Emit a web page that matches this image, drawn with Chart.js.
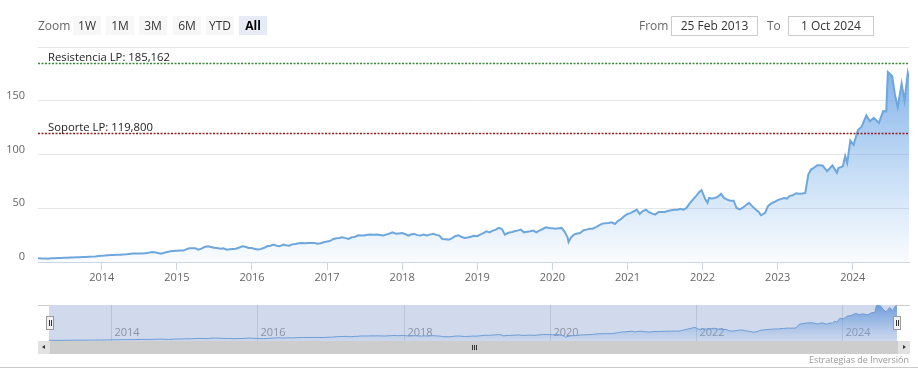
<!DOCTYPE html>
<html><head><meta charset="utf-8">
<script src="https://cdn.jsdelivr.net/npm/chart.js@4/dist/chart.umd.min.js"></script>
<style>
body{margin:0;width:918px;height:380px;position:relative;background:#fff;font-family:"Open Sans",sans-serif;overflow:hidden}
.abs{position:absolute}
.lbl{color:#666;font-size:12px;line-height:19px;top:16px}
.btn{top:16px;height:19px;width:28px;background:#f7f7f7;color:#333;font-size:12px;line-height:19px;text-align:center}
.btn.sel{background:#e6ebf5;color:#000;font-weight:bold}
.inp{top:16px;height:18px;border:1px solid #cccccc;color:#333;font-size:12px;line-height:18px;text-align:center;background:#fff}
.handle{width:6px;height:12px;top:316px;background:#f2f2f2;border:1px solid #999}
.handle i{position:absolute;top:3px;width:1px;height:6px;background:#333}
</style></head>
<body>
<canvas id="main" class="abs" width="918" height="290" style="left:0;top:0"></canvas>
<canvas id="nav" class="abs" width="848" height="36" style="left:49px;top:305px"></canvas>

<div class="abs lbl" style="left:38px">Zoom</div>
<div class="abs btn" style="left:73px">1W</div>
<div class="abs btn" style="left:106px">1M</div>
<div class="abs btn" style="left:139px">3M</div>
<div class="abs btn" style="left:173px">6M</div>
<div class="abs btn" style="left:206px">YTD</div>
<div class="abs btn sel" style="left:239px">All</div>
<div class="abs lbl" style="left:639px">From</div>
<div class="abs inp" style="left:671px;width:85px">25 Feb 2013</div>
<div class="abs lbl" style="left:767px">To</div>
<div class="abs inp" style="left:788px;width:84px">1 Oct 2024</div>

<div class="abs" style="left:38px;top:305px;width:11px;height:1px;background:#cccccc"></div>
<div class="abs" style="left:897px;top:305px;width:13px;height:1px;background:#cccccc"></div>
<div class="abs" style="left:38px;top:341px;width:872px;height:13px;background:#cdcdcd"></div>
<div class="abs" style="left:38px;top:341px;width:12px;height:13px;background:#e2e2e2"></div>
<div class="abs" style="left:898px;top:341px;width:12px;height:13px;background:#e2e2e2"></div>
<div class="abs" style="left:42px;top:345px;width:0;height:0;border-top:2.5px solid transparent;border-bottom:2.5px solid transparent;border-right:3px solid #333"></div>
<div class="abs" style="left:903px;top:345px;width:0;height:0;border-top:2.5px solid transparent;border-bottom:2.5px solid transparent;border-left:3px solid #333"></div>
<div class="abs" style="left:472px;top:345px;width:1px;height:5px;background:#333"></div>
<div class="abs" style="left:474px;top:345px;width:1px;height:5px;background:#333"></div>
<div class="abs" style="left:476px;top:345px;width:1px;height:5px;background:#333"></div>
<div class="abs handle" style="left:46px"><i style="left:2px"></i><i style="left:4px"></i></div>
<div class="abs handle" style="left:893px"><i style="left:2px"></i><i style="left:4px"></i></div>
<div class="abs" style="right:9px;top:354px;font-size:9px;color:#999;line-height:12px">Estrategias de Inversión</div>
<div class="abs" style="left:0;top:367px;width:918px;height:1px;background:#cccccc"></div>

<script>
const dates = [
 "2013-02-25","2013-03-15","2013-04-01","2013-04-15","2013-05-01","2013-05-15","2013-06-01","2013-06-15","2013-07-01","2013-07-15","2013-08-01","2013-08-15","2013-09-01","2013-09-15","2013-10-01","2013-10-15","2013-11-01","2013-11-15","2013-12-01","2013-12-15",
 "2014-01-01","2014-01-15","2014-02-01","2014-02-15","2014-03-01","2014-03-15","2014-04-01","2014-04-15","2014-05-01","2014-05-15","2014-06-01","2014-06-15","2014-07-01","2014-07-15","2014-08-01","2014-08-15","2014-09-01","2014-09-15","2014-10-01","2014-10-15","2014-11-01","2014-11-15","2014-12-01","2014-12-15",
 "2015-01-01","2015-01-15","2015-02-01","2015-02-15","2015-03-01","2015-03-15","2015-04-01","2015-04-15","2015-05-01","2015-05-15","2015-06-01","2015-06-15","2015-07-01","2015-07-15","2015-08-01","2015-08-15","2015-09-01","2015-09-15","2015-10-01","2015-10-15","2015-11-01","2015-11-15","2015-12-01","2015-12-15",
 "2016-01-01","2016-01-15","2016-02-01","2016-02-15","2016-03-01","2016-03-15","2016-04-01","2016-04-15","2016-05-01","2016-05-15","2016-06-01","2016-06-15","2016-07-01","2016-07-15","2016-08-01","2016-08-15","2016-09-01","2016-09-15","2016-10-01","2016-10-15","2016-11-01","2016-11-15","2016-12-01","2016-12-15",
 "2017-01-01","2017-01-15","2017-02-01","2017-02-15","2017-03-01","2017-03-15","2017-04-01","2017-04-15","2017-05-01","2017-05-15","2017-06-01","2017-06-15","2017-07-01","2017-07-15","2017-08-01","2017-08-15","2017-09-01","2017-09-15","2017-10-01","2017-10-15","2017-11-01","2017-11-15","2017-12-01","2017-12-15",
 "2018-01-01","2018-01-15","2018-02-01","2018-02-15","2018-03-01","2018-03-15","2018-04-01","2018-04-15","2018-05-01","2018-05-15","2018-06-01","2018-06-15","2018-07-01","2018-07-15","2018-08-01","2018-08-15","2018-09-01","2018-09-15","2018-10-01","2018-10-15","2018-11-01","2018-11-15","2018-12-01","2018-12-15",
 "2019-01-01","2019-01-15","2019-02-01","2019-02-15","2019-03-01","2019-03-15","2019-04-01","2019-04-15","2019-05-01","2019-05-15","2019-06-01","2019-06-15","2019-07-01","2019-07-15","2019-08-01","2019-08-15","2019-09-01","2019-09-15","2019-10-01","2019-10-15","2019-11-01","2019-11-15","2019-12-01","2019-12-15",
 "2020-01-01","2020-01-15","2020-02-01","2020-02-15","2020-03-01","2020-03-15","2020-03-20","2020-04-01","2020-04-15","2020-05-01","2020-05-15","2020-06-01","2020-06-15","2020-07-01","2020-07-15","2020-08-01","2020-08-15","2020-09-01","2020-09-15","2020-10-01","2020-10-15","2020-11-01","2020-11-15","2020-12-01","2020-12-15",
 "2021-01-01","2021-01-15","2021-02-01","2021-02-15","2021-03-01","2021-03-15","2021-04-01","2021-04-15","2021-05-01","2021-05-15","2021-06-01","2021-06-15","2021-07-01","2021-07-15","2021-08-01","2021-08-15","2021-09-01","2021-09-15","2021-10-01","2021-10-15","2021-11-01","2021-11-15","2021-12-01","2021-12-15","2021-12-27",
 "2022-01-15","2022-01-25","2022-02-01","2022-02-15","2022-03-01","2022-03-15","2022-04-01","2022-04-15","2022-05-01","2022-05-15","2022-06-01","2022-06-15","2022-07-01","2022-07-15","2022-08-01","2022-08-15","2022-09-01","2022-09-15","2022-10-01","2022-10-12","2022-11-01","2022-11-15","2022-12-01","2022-12-15",
 "2023-01-01","2023-01-15","2023-02-01","2023-02-15","2023-03-01","2023-03-15","2023-04-01","2023-04-15","2023-05-01","2023-05-15","2023-05-30","2023-06-12","2023-06-25","2023-07-12","2023-07-19","2023-08-07","2023-08-29","2023-09-24","2023-10-16","2023-10-23","2023-11-14","2023-11-25","2023-12-05","2023-12-20",
 "2024-01-05","2024-01-26","2024-02-13","2024-03-07","2024-03-25","2024-04-12","2024-05-08","2024-05-28","2024-06-12","2024-06-20","2024-07-11","2024-07-24","2024-08-07","2024-08-26","2024-09-09","2024-09-25","2024-10-01"
];
const prices = [
 3.6,3.3,3.2,3.1,3.4,3.6,3.7,3.8,3.9,4.0,4.1,4.2,4.4,4.5,4.6,4.7,4.9,5.0,5.2,5.5,
 5.9,6.0,6.2,6.4,6.5,6.7,6.8,7.0,7.1,7.4,7.8,7.8,7.8,7.9,8.2,8.5,9.3,9.0,8.4,7.8,8.6,9.4,10.0,10.3,
 10.5,10.6,10.6,11.8,12.7,12.9,12.7,11.5,12.4,14.0,14.6,14.0,13.3,13.0,12.3,12.7,11.5,11.8,12.1,12.4,13.5,14.6,14.2,13.0,
 13.0,12.0,11.6,12.2,13.2,14.6,15.2,16.2,15.2,14.6,16.2,15.6,15.2,16.4,16.8,17.4,17.7,17.5,17.7,17.6,17.7,17.1,17.4,18.4,
 19.0,19.5,21.4,22.0,22.4,23.0,22.2,21.4,23.0,23.3,24.9,24.6,24.6,25.3,25.5,25.4,25.5,25.1,24.6,25.5,26.5,27.6,26.3,26.6,
 27.0,26.0,24.6,25.8,26.1,25.0,24.6,25.5,24.6,25.5,26.3,25.2,24.6,21.4,21.2,20.8,22.2,24.0,24.9,23.5,22.4,22.8,23.5,24.4,
 24.0,25.5,27.0,28.6,27.6,29.0,30.1,31.7,30.6,25.4,27.2,27.6,28.6,29.2,30.1,27.6,28.2,28.6,29.2,27.6,29.5,30.7,32.3,31.7,
 31.5,31.0,31.4,31.7,28.0,23.0,18.5,23.0,25.5,26.5,27.0,29.5,30.1,31.0,31.0,32.5,34.0,35.7,36.0,36.3,36.9,35.4,38.0,40.0,42.5,
 44.7,45.5,47.2,48.7,44.7,47.2,48.7,46.3,45.0,44.1,46.6,46.6,46.6,47.5,48.1,48.5,48.7,49.5,48.7,50.3,55.0,58.1,61.5,64.9,66.8,
 58.0,55.0,59.6,59.0,59.6,60.5,63.4,59.6,58.0,57.0,57.0,50.3,49.0,50.5,53.0,55.0,51.5,49.0,46.6,43.5,45.8,52.0,54.5,55.8,
 57.5,58.5,59.6,59.0,61.5,62.0,64.0,63.5,63.7,64.3,81.4,86.0,87.5,90.0,90.0,89.8,84.5,89.8,83.0,87.5,89.0,98.5,92.0,113.0,
 109.0,122.7,125.8,136.4,131.0,134.0,129.6,140.4,140.0,176.8,173.0,156.0,144.0,166.0,150.0,176.0,171.0
];
const yearTicks = [2014,2015,2016,2017,2018,2019,2020,2021,2022,2023,2024];
const navYearTicks = [2014,2016,2018,2020,2022,2024];
const yTicks = [0,50,100,150,200];
const refValues = [185.162, 119.8];
const refLabels = ["Resistencia LP: 185,162", "Soporte LP: 119,800"];
const rangeStart = "2013-02-25", rangeEnd = "2024-10-01";

function toYear(s){
  const d = Date.parse(s + "T00:00:00Z");
  const y = +s.slice(0,4);
  const a = Date.UTC(y,0,1), b = Date.UTC(y+1,0,1);
  return y + (d - a) / (b - a);
}
const points = dates.map((d,i)=>({x: toYear(d), y: prices[i]}));
const xMin = toYear(rangeStart), xMax = toYear(rangeEnd);
const FONT = '"Open Sans", sans-serif';
const refColors = ['rgb(52,140,52)', 'rgb(155,28,28)'];

function areaGradient(ctx){
  const ca = ctx.chart.chartArea;
  if(!ca) return 'rgba(124,181,236,0.3)';
  const g = ctx.chart.ctx.createLinearGradient(0, ca.top, 0, ca.bottom);
  g.addColorStop(0, 'rgba(108,163,228,0.95)');
  g.addColorStop(1, 'rgba(124,181,236,0.04)');
  return g;
}

const refPlugin = {
  id: 'refLines',
  afterDatasetsDraw(chart){
    const {ctx, chartArea:ca, scales:{y}} = chart;
    ctx.save();
    refValues.forEach((v,i)=>{
      const py = Math.round(y.getPixelForValue(v)) + 0.5;
      ctx.strokeStyle = refColors[i];
      ctx.lineWidth = 1.4;
      ctx.setLineDash([2,1.5]);
      ctx.beginPath(); ctx.moveTo(ca.left, py); ctx.lineTo(ca.right, py); ctx.stroke();
      ctx.setLineDash([]);
      ctx.fillStyle = '#222';
      ctx.font = '11.3px ' + FONT;
      ctx.textAlign = 'left'; ctx.textBaseline = 'alphabetic';
      ctx.fillText(refLabels[i], ca.left + 10, py - 3);
    });
    ctx.restore();
  }
};

new Chart(document.getElementById('main'), {
  type: 'line',
  data: { datasets: [{
    data: points, borderColor: '#6ea6de', borderWidth: 2, pointRadius: 0,
    tension: 0, fill: 'origin', backgroundColor: areaGradient
  }]},
  options: {
    responsive: false, animation: false, parsing: false,
    layout: { padding: { top: 47, right: 9, left: 0, bottom: 0 } },
    plugins: { legend: {display:false}, tooltip: {enabled:false} },
    scales: {
      x: {
        type: 'linear', min: xMin, max: xMax,
        afterBuildTicks: s => { s.ticks = yearTicks.map(v=>({value:v})); },
        afterFit: s => { s.height = 28; },
        ticks: { callback: v => String(v), color: '#666', font: {size: 11, family: FONT}, padding: 1, maxRotation: 0, autoSkip: false },
        grid: { drawOnChartArea: false, drawTicks: true, tickLength: 8, color: '#ccd6eb' },
        border: { color: '#ccd6eb', width: 1 }
      },
      y: {
        min: 0, max: 200,
        afterBuildTicks: s => { s.ticks = yTicks.map(v=>({value:v})); },
        afterFit: s => { s.width = 38; },
        ticks: { callback: v => v === 200 ? '' : String(v), color: '#666', font: {size: 11, family: FONT}, padding: 13, labelOffset: -5 },
        grid: { color: '#e6e6e6', drawTicks: false },
        border: { display: false }
      }
    }
  },
  plugins: [refPlugin]
});

const navPlugin = {
  id: 'navDecor',
  beforeDatasetsDraw(chart){
    const {ctx, chartArea:ca, scales:{x}} = chart;
    ctx.save();
    ctx.strokeStyle = '#e0e0e0'; ctx.lineWidth = 1;
    ctx.fillStyle = '#999'; ctx.font = '11px ' + FONT;
    ctx.textAlign = 'left'; ctx.textBaseline = 'middle';
    navYearTicks.forEach(v=>{
      const px = Math.round(x.getPixelForValue(v)) + 0.5;
      ctx.beginPath(); ctx.moveTo(px, ca.top); ctx.lineTo(px, ca.bottom); ctx.stroke();
      ctx.fillText(String(v), px + 3, ca.bottom - 8);
    });
    ctx.restore();
  },
  afterDatasetsDraw(chart){
    const {ctx, chartArea:ca} = chart;
    ctx.save();
    ctx.fillStyle = 'rgba(102,133,194,0.3)';
    ctx.fillRect(ca.left, ca.top, ca.right - ca.left, ca.bottom - ca.top);
    ctx.restore();
  }
};

new Chart(document.getElementById('nav'), {
  type: 'line',
  data: { datasets: [{
    data: points, borderColor: '#6ea6de', borderWidth: 1, pointRadius: 0,
    tension: 0, fill: 'origin', backgroundColor: areaGradient
  }]},
  options: {
    responsive: false, animation: false, parsing: false,
    layout: { padding: 0 },
    plugins: { legend: {display:false}, tooltip: {enabled:false} },
    scales: {
      x: { type: 'linear', min: xMin, max: xMax, display: false },
      y: { min: 0, max: 178, display: false }
    }
  },
  plugins: [navPlugin]
});
</script>
</body></html>
